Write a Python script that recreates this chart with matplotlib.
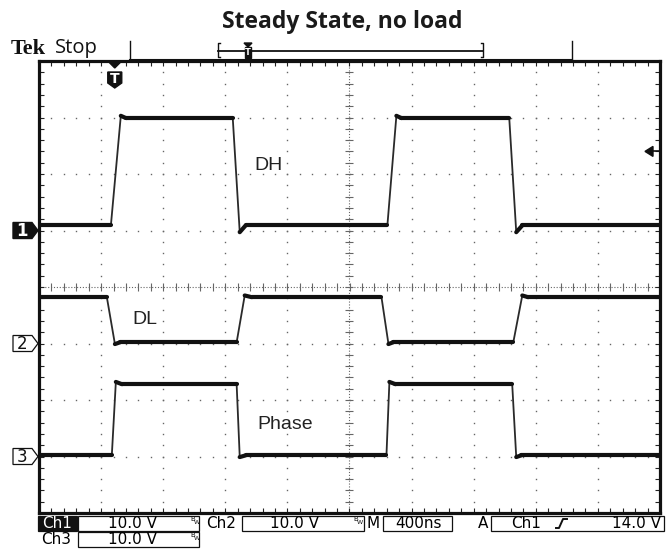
import numpy as np
import matplotlib
matplotlib.use("Agg")
import matplotlib.pyplot as plt
from matplotlib.patches import Polygon, Rectangle

# ===================== scope settings =====================
NS_PER_DIV = 400.0
V_PER_DIV = 10.0
ch_names = ["DH", "DL", "Phase"]
ch_ground = [1.0, -1.0, -3.0]      # ground marker position, divisions
trig_level = 14.0                  # V on Ch1
trig_pos = -3.78                   # trigger point, divisions from centre

# ===================== traces (ns, V) =====================
dh_t = [-2000, -1537, -1473, -1440, -752, -707, -669, 244, 302, 334, 1029, 1074, 1113, 2000]
dh_v = [0.9, 0.9, 20.3, 19.9, 19.9, -0.3, 0.9, 0.9, 20.3, 19.9, 19.9, -0.3, 0.9, 0.9]

dl_t = [-2000, -1563, -1511, -1479, -727, -675, -630, 206, 251, 280, 1055, 1113, 1150, 2000]
dl_v = [8.2, 8.2, -0.1, 0.2, 0.2, 8.5, 8.2, 8.2, -0.1, 0.2, 0.2, 8.5, 8.2, 8.2]

ph_t = [-2000, -1531, -1505, -1466, -727, -707, -669, 238, 257, 296, 1048, 1074, 1106, 2000]
ph_v = [0.2, 0.2, 13.2, 12.8, 12.8, -0.1, 0.2, 0.2, 13.2, 12.8, 12.8, -0.1, 0.2, 0.2]

traces = [(dh_t, dh_v), (dl_t, dl_v), (ph_t, ph_v)]
label_pos = [(-1.53, 2.15), (-3.49, -0.57), (-1.48, -2.44)]

# status bar text
ch_scale_txt = ["10.0 V", "10.0 V", "10.0 V"]
time_txt = "400ns"
trig_txt = "14.0 V"

# ===================== figure =====================
W, H = 671, 557
L, R, T, B = 39, 660, 61, 513          # screen frame in pixels
fig = plt.figure(figsize=(W / 100, H / 100), dpi=100)
ax = fig.add_axes([L / W, 1 - B / H, (R - L) / W, (B - T) / H])
ax.set_xlim(-5, 5)
ax.set_ylim(-4, 4)

for s in ax.spines.values():
    s.set_linewidth(2.3)
    s.set_color("#111111")
ax.set_xticks(np.arange(-5, 5.01, 1))
ax.set_xticks(np.arange(-5, 5.01, 0.2), minor=True)
ax.set_yticks(np.arange(-4, 4.01, 1))
ax.set_yticks(np.arange(-4, 4.01, 0.2), minor=True)
ax.tick_params(which="both", direction="in", length=3.5, width=0.8, color="#222222",
               top=True, right=True, labelbottom=False, labelleft=False)

# graticule dots
dots_y = np.arange(-4, 4.01, 0.2)
dots_x = np.arange(-5, 5.01, 0.2)
for gx in range(-4, 5):
    if gx != 0:
        ax.plot(np.full_like(dots_y, gx), dots_y, ls="none", marker="s", ms=1.0,
                mew=0, color="#666666", zorder=1)
for gy in range(-3, 4):
    if gy != 0:
        ax.plot(dots_x, np.full_like(dots_x, gy), ls="none", marker="s", ms=1.0,
                mew=0, color="#666666", zorder=1)
# centre cross with ticks
ax.axvline(0, ls=(0, (1, 1.6)), lw=0.8, color="#666666", zorder=1)
ax.axhline(0, ls=(0, (1, 1.6)), lw=0.8, color="#666666", zorder=1)
ax.plot(np.zeros_like(dots_y), dots_y, ls="none", marker="_", ms=6, mew=0.8, color="#666666", zorder=1)
ax.plot(dots_x, np.zeros_like(dots_x), ls="none", marker="|", ms=6, mew=0.8, color="#666666", zorder=1)

# traces
for (t, v), g, name, (lx, ly) in zip(traces, ch_ground, ch_names, label_pos):
    x = np.array(t) / NS_PER_DIV
    y = g + np.array(v) / V_PER_DIV
    ax.plot(x, y, color="#2a2a2a", lw=1.3, zorder=3)
    for i in range(len(x) - 1):
        slope = abs(v[i + 1] - v[i]) / max(t[i + 1] - t[i], 1)
        if slope < 0.05:
            ax.plot(x[i:i + 2], y[i:i + 2], color="#111111", lw=3.0,
                    solid_capstyle="round", zorder=4)
    ax.text(lx, ly, name, fontsize=14, family="Liberation Sans", color="#222222",
            ha="left", va="center", zorder=5)

# ===================== decorations in pixel space =====================
ov = fig.add_axes([0, 0, 1, 1])
ov.set_xlim(0, W)
ov.set_ylim(H, 0)
ov.axis("off")
ov.patch.set_visible(False)


def ypx(div):
    return B - (div + 4) / 8 * (B - T)


def xpx(div):
    return L + (div + 5) / 10 * (R - L)


ov.text(342, 22, "Steady State, no load", fontsize=16.5, family="Open Sans",
        weight="bold", ha="center", va="center", color="#1a1a1a")
ov.text(11, 49, "Tek", fontsize=16, family="Liberation Serif", weight="bold",
        ha="left", va="center", color="#111111")
ov.text(55, 48, "Stop", fontsize=14.5, family="Open Sans", ha="left", va="center",
        color="#111111")

# record bar
ov.plot([130, 130], [41, 60], color="#111111", lw=1.0)
ov.plot([572, 572], [41, 60], color="#111111", lw=1.0)
ov.plot([130, 572], [59.5, 59.5], color="#111111", lw=1.5)
ov.plot([220, 218, 218, 220], [43, 43, 57, 57], color="#111111", lw=1.0)
ov.plot([481, 483, 483, 481], [43, 43, 57, 57], color="#111111", lw=1.0)
ov.plot([218, 483], [51, 51], color="#111111", lw=1.3)
ov.add_patch(Polygon([[244, 43], [252, 43], [248, 47]], closed=True, color="#111111"))
ov.add_patch(Rectangle((245, 47), 6, 11, color="#111111"))
ov.text(248, 52.5, "T", fontsize=6, color="white", weight="bold", ha="center", va="center")

# trigger position marker
tx = xpx(trig_pos)
ov.add_patch(Polygon([[tx - 7, T], [tx + 7, T], [tx, T + 7]], closed=True, color="#111111"))
ov.add_patch(Polygon([[tx - 7, 72], [tx + 7, 72], [tx + 7, 83], [tx, 88], [tx - 7, 83]],
                     closed=True, color="#111111"))
ov.text(tx, 79, "T", fontsize=10, color="white", weight="bold", ha="center", va="center",
        family="DejaVu Sans")

# trigger level arrow (Ch1)
ty = ypx(ch_ground[0] + trig_level / V_PER_DIV)
ov.add_patch(Polygon([[645, ty], [653, ty - 5], [653, ty + 5]], closed=True, color="#111111"))
ov.plot([652, R], [ty, ty], color="#111111", lw=1.2)

# channel ground markers
for i, g in enumerate(ch_ground):
    yg = ypx(g)
    pts = [[13, yg - 8], [32, yg - 8], [38, yg], [32, yg + 8], [13, yg + 8]]
    if i == 0:
        ov.add_patch(Polygon(pts, closed=True, facecolor="#111111", edgecolor="#111111"))
        tc = "white"
    else:
        ov.add_patch(Polygon(pts, closed=True, facecolor="white", edgecolor="#111111", lw=0.9))
        tc = "#111111"
    ov.text(22, yg + 0.5, str(i + 1), fontsize=12, color=tc, ha="center", va="center",
            family="DejaVu Sans", weight="bold" if i == 0 else "normal")

# status bar
fs = 11
fam = "DejaVu Sans"


def box(x0, y0, x1, y1, fill=False):
    ov.add_patch(Rectangle((x0, y0), x1 - x0, y1 - y0, facecolor="#111111" if fill else "none",
                           edgecolor="#111111", lw=0.9))


def bw(x, y):
    ov.text(x, y, "B", fontsize=5, ha="left", va="center", family=fam, color="#111111")
    ov.text(x + 3.5, y + 4, "W", fontsize=4.5, ha="left", va="center", family=fam, color="#111111")


r1, r2 = 523.5, 539.5
box(38, 516, 77, 531, fill=True)
ov.text(57.5, r1, "Ch1", fontsize=fs, family=fam, color="white", ha="center", va="center")
box(78, 516, 199, 531)
ov.text(133, r1, ch_scale_txt[0], fontsize=fs, family=fam, ha="center", va="center")
bw(190, 519)
ov.text(221, r1, "Ch2", fontsize=fs, family=fam, ha="center", va="center")
box(242, 516, 364, 531)
ov.text(294, r1, ch_scale_txt[1], fontsize=fs, family=fam, ha="center", va="center")
bw(353, 519)
ov.text(373, r1, "M", fontsize=fs, family=fam, ha="center", va="center")
box(383, 516, 452, 531)
ov.text(418, r1, time_txt, fontsize=fs, family=fam, ha="center", va="center")
ov.text(483, r1, "A", fontsize=fs, family=fam, ha="center", va="center")
box(491, 516, 664, 531)
ov.text(526, r1, "Ch1", fontsize=fs, family=fam, ha="center", va="center")
ov.plot([556, 559, 563, 567], [528, 528, 519, 519], color="#111111", lw=1.4)
ov.text(661, r1, trig_txt, fontsize=fs, family=fam, ha="right", va="center")

ov.text(56, r2, "Ch3", fontsize=fs, family=fam, ha="center", va="center")
box(78, 532, 199, 547)
ov.text(133, r2, ch_scale_txt[2], fontsize=fs, family=fam, ha="center", va="center")
bw(190, 535)

fig.savefig("out.png", dpi=100)
